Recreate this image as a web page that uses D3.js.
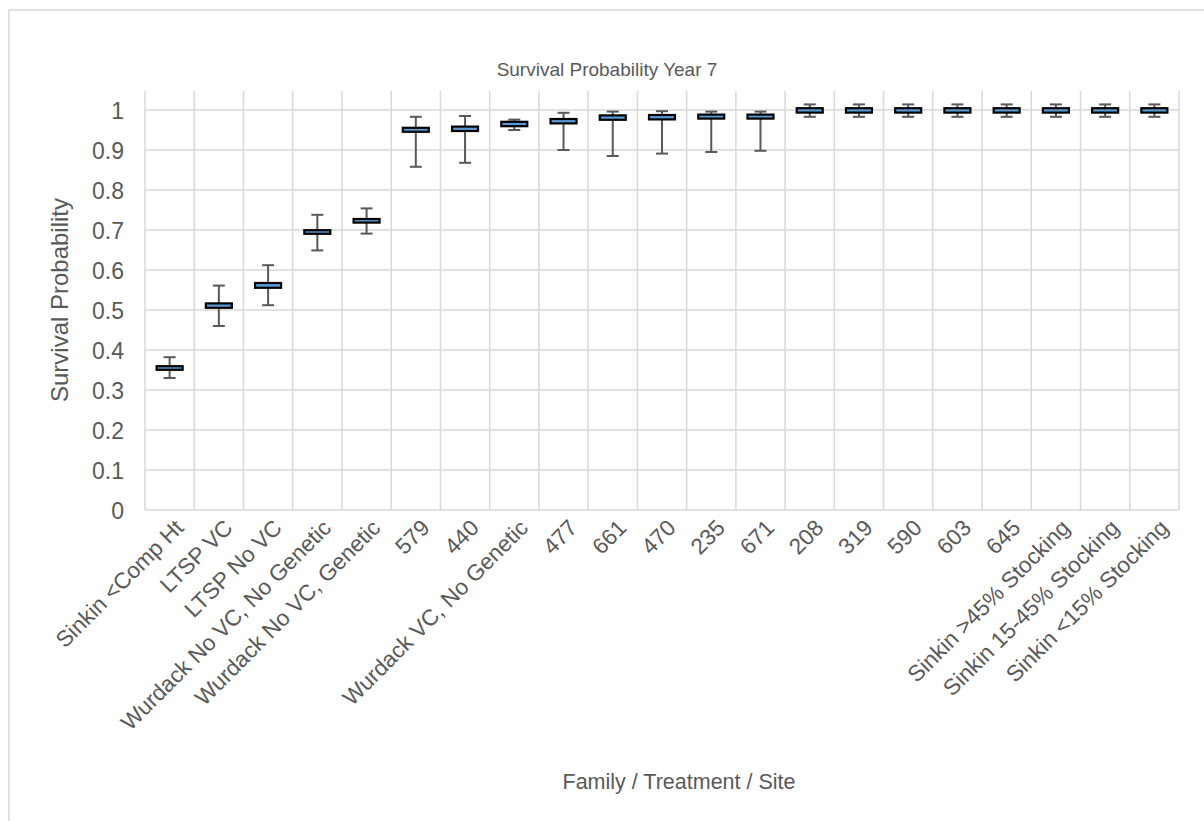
<!DOCTYPE html>
<html><head><meta charset="utf-8">
<script src="https://cdn.jsdelivr.net/npm/d3@7"></script>
<style>body{margin:0;background:#fff;} svg{display:block;font-family:"Liberation Sans",Arial,sans-serif;}</style>
</head><body>
<svg id="c" width="1204" height="821"></svg>
<script>
const categories = ["Sinkin <Comp Ht","LTSP VC","LTSP No VC","Wurdack No VC, No Genetic","Wurdack No VC, Genetic","579","440","Wurdack VC, No Genetic","477","661","470","235","671","208","319","590","603","645","Sinkin >45% Stocking","Sinkin 15-45% Stocking","Sinkin <15% Stocking"];
const whiskerLow  = [0.330,0.460,0.512,0.649,0.691,0.858,0.868,0.950,0.900,0.885,0.891,0.895,0.898,0.983,0.983,0.983,0.983,0.983,0.983,0.983,0.983];
const boxLow      = [0.348,0.503,0.553,0.688,0.716,0.943,0.945,0.957,0.964,0.973,0.974,0.976,0.976,0.991,0.991,0.991,0.991,0.991,0.991,0.991,0.991];
const boxHigh     = [0.362,0.519,0.570,0.702,0.730,0.958,0.961,0.973,0.980,0.989,0.990,0.991,0.991,1.007,1.007,1.007,1.007,1.007,1.007,1.007,1.007];
const whiskerHigh = [0.382,0.561,0.612,0.738,0.754,0.983,0.985,0.976,0.993,0.996,0.997,0.996,0.996,1.014,1.014,1.014,1.014,1.014,1.014,1.014,1.014];
const yTicks = [0,0.1,0.2,0.3,0.4,0.5,0.6,0.7,0.8,0.9,1];
const title = "Survival Probability Year 7";
const yTitle = "Survival Probability";
const xTitle = "Family / Treatment / Site";

const svg = d3.select("#c");
const txt = "#595959", grid = "#d9d9d9";
svg.append("rect").attr("x",9).attr("y",10).attr("width",1220).attr("height",830)
  .attr("fill","#fff").attr("stroke",grid).attr("stroke-width",1.5);

const L=145,R=1179,T=91,B=510;
const x = d3.scaleBand().domain(categories).range([L,R]).padding(0);
const y = d3.scaleLinear().domain([0,1.0475]).range([B,T]);

svg.append("g").selectAll("line").data(yTicks).join("line")
  .attr("x1",L).attr("x2",R).attr("y1",d=>y(d)).attr("y2",d=>y(d))
  .attr("stroke",grid).attr("stroke-width",1.5);
const edges = categories.map(c=>x(c)).concat([R]);
svg.append("g").selectAll("line").data(edges).join("line")
  .attr("x1",d=>d).attr("x2",d=>d).attr("y1",T).attr("y2",B)
  .attr("stroke",grid).attr("stroke-width",1.5);

const yAxis = d3.axisLeft(y).tickValues(yTicks).tickSize(0).tickPadding(0).tickFormat(d3.format("~g"));
const ya = svg.append("g").attr("transform",`translate(${124},0)`).call(yAxis);
ya.select(".domain").remove();
ya.selectAll("text").attr("fill",txt).attr("font-size",23).attr("font-family","Liberation Sans, Arial, sans-serif").attr("dy","0.35em");

const xAxis = d3.axisBottom(x).tickSize(0).tickPadding(0);
const xa = svg.append("g").attr("transform",`translate(0,${B})`).call(xAxis);
xa.select(".domain").remove();
xa.selectAll("text").attr("fill",txt).attr("font-size",22.5).attr("font-family","Liberation Sans, Arial, sans-serif")
  .attr("text-anchor","end").attr("dy",null).attr("y",null)
  .attr("transform","translate(11,15) rotate(-45)").attr("dominant-baseline","middle");

const bw = 28, cw = 12;
const g = svg.append("g");
categories.forEach((c,i)=>{
  const cx = x(c)+x.bandwidth()/2;
  const gg = g.append("g");
  gg.append("line").attr("x1",cx).attr("x2",cx).attr("y1",y(whiskerLow[i])).attr("y2",y(whiskerHigh[i]))
    .attr("stroke","#595959").attr("stroke-width",2);
  [whiskerLow[i],whiskerHigh[i]].forEach(v=>{
    gg.append("line").attr("x1",cx-cw/2).attr("x2",cx+cw/2).attr("y1",y(v)).attr("y2",y(v))
      .attr("stroke","#595959").attr("stroke-width",2);
  });
  gg.append("rect").attr("x",cx-bw/2+1).attr("width",bw-2)
    .attr("y",y(boxHigh[i])+1).attr("height",Math.max(1,y(boxLow[i])-y(boxHigh[i])-2))
    .attr("fill","#5B9BD5").attr("stroke","#000").attr("stroke-width",2.2);
});

svg.append("text").attr("x",607).attr("y",76).attr("text-anchor","middle").attr("fill",txt)
  .attr("font-size",19).text(title);
svg.append("text").attr("transform","translate(62,300) rotate(-90)").attr("text-anchor","middle").attr("fill",txt)
  .attr("font-size",24).attr("dominant-baseline","middle").text(yTitle);
svg.append("text").attr("x",679).attr("y",789).attr("text-anchor","middle").attr("fill",txt)
  .attr("font-size",21.5).text(xTitle);
</script>
</body></html>
